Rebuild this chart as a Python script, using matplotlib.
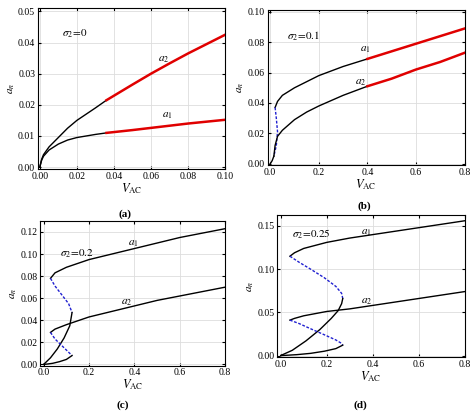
import matplotlib
matplotlib.use("Agg")
import matplotlib.pyplot as plt

plt.rcParams["font.family"] = ["Liberation Serif", "DejaVu Serif"]
plt.rcParams["mathtext.fontset"] = "stix"

# panel (a): sigma2 = 0
a_a2_v = [0, 0.001, 0.002, 0.005, 0.01, 0.015, 0.02, 0.025, 0.03, 0.036]
a_a2_y = [0, 0.0025, 0.004, 0.0065, 0.0095, 0.0125, 0.015, 0.017, 0.019, 0.0215]
a_a2_rv = [0.036, 0.05, 0.06, 0.07, 0.08, 0.09, 0.1]
a_a2_ry = [0.0215, 0.0265, 0.0300, 0.0333, 0.0365, 0.0395, 0.0425]
a_a1_v = [0, 0.001, 0.002, 0.005, 0.01, 0.015, 0.02, 0.03, 0.036]
a_a1_y = [0, 0.0022, 0.0035, 0.0055, 0.0074, 0.0087, 0.0095, 0.0105, 0.011]
a_a1_rv = [0.036, 0.05, 0.06, 0.07, 0.08, 0.09, 0.1]
a_a1_ry = [0.011, 0.0119, 0.0126, 0.0133, 0.0140, 0.0146, 0.0152]

# panel (b): sigma2 = 0.1
b_a1_v = [0.02, 0.03, 0.05, 0.1, 0.15, 0.2, 0.3, 0.4]
b_a1_y = [0.037, 0.041, 0.045, 0.050, 0.054, 0.058, 0.064, 0.069]
b_a1_rv = [0.4, 0.5, 0.6, 0.7, 0.8]
b_a1_ry = [0.069, 0.074, 0.079, 0.084, 0.089]
b_a1_uv = [0.02, 0.025, 0.03, 0.025, 0.015]
b_a1_uy = [0.037, 0.03, 0.021, 0.012, 0.005]
b_a1_lv = [0.015, 0.008, 0.003, 0]
b_a1_ly = [0.005, 0.002, 0.0007, 0]
b_a2_v = [0.015, 0.02, 0.03, 0.05, 0.1, 0.15, 0.2, 0.3, 0.4]
b_a2_y = [0.005, 0.012, 0.018, 0.022, 0.029, 0.034, 0.038, 0.045, 0.051]
b_a2_rv = [0.4, 0.5, 0.6, 0.7, 0.8]
b_a2_ry = [0.051, 0.056, 0.062, 0.067, 0.073]

# panel (c): sigma2 = 0.2
c_a1_v = [0.03, 0.05, 0.1, 0.2, 0.3, 0.4, 0.5, 0.6, 0.7, 0.8]
c_a1_y = [0.078, 0.083, 0.088, 0.095, 0.100, 0.105, 0.110, 0.115, 0.119, 0.123]
c_a1_uv = [0.03, 0.05, 0.08, 0.11, 0.125]
c_a1_uy = [0.078, 0.071, 0.063, 0.055, 0.047]
c_a1_lv = [0.125, 0.115, 0.09, 0.06, 0.03, 0.01, 0]
c_a1_ly = [0.047, 0.035, 0.024, 0.014, 0.006, 0.002, 0]
c_a2_v = [0.03, 0.05, 0.1, 0.2, 0.3, 0.4, 0.5, 0.6, 0.7, 0.8]
c_a2_y = [0.029, 0.032, 0.036, 0.043, 0.048, 0.053, 0.058, 0.062, 0.066, 0.070]
c_a2_uv = [0.03, 0.05, 0.08, 0.11, 0.125]
c_a2_uy = [0.029, 0.023, 0.017, 0.011, 0.008]
c_a2_lv = [0.125, 0.1, 0.07, 0.04, 0.015, 0]
c_a2_ly = [0.008, 0.0045, 0.0025, 0.001, 0.0003, 0]

# panel (d): sigma2 = 0.25
d_a1_v = [0.04, 0.06, 0.1, 0.2, 0.3, 0.4, 0.5, 0.6, 0.7, 0.8]
d_a1_y = [0.115, 0.119, 0.124, 0.131, 0.136, 0.140, 0.144, 0.148, 0.152, 0.156]
d_a1_uv = [0.04, 0.08, 0.13, 0.19, 0.24, 0.265, 0.27]
d_a1_uy = [0.115, 0.108, 0.100, 0.090, 0.080, 0.072, 0.066]
d_a1_lv = [0.27, 0.265, 0.25, 0.22, 0.17, 0.11, 0.05, 0]
d_a1_ly = [0.066, 0.060, 0.052, 0.043, 0.030, 0.017, 0.006, 0]
d_a2_v = [0.04, 0.06, 0.1, 0.2, 0.3, 0.4, 0.5, 0.6, 0.7, 0.8]
d_a2_y = [0.041, 0.043, 0.046, 0.051, 0.054, 0.058, 0.062, 0.066, 0.070, 0.074]
d_a2_uv = [0.04, 0.08, 0.13, 0.19, 0.24, 0.265, 0.27]
d_a2_uy = [0.041, 0.037, 0.031, 0.024, 0.018, 0.014, 0.012]
d_a2_lv = [0.27, 0.24, 0.19, 0.13, 0.07, 0.02, 0]
d_a2_ly = [0.012, 0.008, 0.005, 0.0025, 0.001, 0.0002, 0]

BLK = dict(color="black", lw=1.0)
RED = dict(color="#e00000", lw=1.8)
BLU = dict(color="#2020d0", lw=1.0, ls=(0, (2, 1.2)))

fig = plt.figure(figsize=(4.74, 4.13), dpi=100)
axa = fig.add_axes([0.08, 0.59, 0.395, 0.39])
axb = fig.add_axes([0.565, 0.60, 0.415, 0.375])
axc = fig.add_axes([0.085, 0.115, 0.39, 0.35])
axd = fig.add_axes([0.585, 0.135, 0.395, 0.345])


def style(ax, xticks, yticks, fmt_x, fmt_y):
    ax.set_xticks(xticks)
    ax.set_yticks(yticks)
    ax.set_xticklabels([fmt_x.format(t) for t in xticks])
    ax.set_yticklabels([fmt_y.format(t) for t in yticks])
    ax.tick_params(labelsize=7, direction="in", length=2.5, top=True, right=True, pad=2)
    ax.grid(color="#dddddd", lw=0.6)
    ax.set_xlabel(r"$V_{\mathrm{AC}}$", fontsize=9, labelpad=0)
    ax.set_ylabel(r"$a_n$", fontsize=8, labelpad=1)


axa.plot(a_a2_v, a_a2_y, **BLK)
axa.plot(a_a2_rv, a_a2_ry, **RED)
axa.plot(a_a1_v, a_a1_y, **BLK)
axa.plot(a_a1_rv, a_a1_ry, **RED)
axa.set_xlim(-0.001, 0.1)
axa.set_ylim(-0.0007, 0.051)
style(axa, [0, 0.02, 0.04, 0.06, 0.08, 0.1], [0, 0.01, 0.02, 0.03, 0.04, 0.05], "{:.2f}", "{:.2f}")
axa.text(0.012, 0.042, r"$\sigma_2\!=\!0$", fontsize=8)
axa.text(0.064, 0.034, r"$a_2$", fontsize=8)
axa.text(0.066, 0.0158, r"$a_1$", fontsize=8)

axb.plot(b_a1_v, b_a1_y, **BLK)
axb.plot(b_a1_rv, b_a1_ry, **RED)
axb.plot(b_a1_uv, b_a1_uy, **BLU)
axb.plot(b_a1_lv, b_a1_ly, **BLK)
axb.plot(b_a2_v, b_a2_y, **BLK)
axb.plot(b_a2_rv, b_a2_ry, **RED)
axb.set_xlim(-0.01, 0.8)
axb.set_ylim(-0.001, 0.101)
style(axb, [0, 0.2, 0.4, 0.6, 0.8], [0, 0.02, 0.04, 0.06, 0.08, 0.1], "{:.1f}", "{:.2f}")
axb.text(0.07, 0.082, r"$\sigma_2\!=\!0.1$", fontsize=8)
axb.text(0.37, 0.074, r"$a_1$", fontsize=8)
axb.text(0.35, 0.052, r"$a_2$", fontsize=8)

axc.plot(c_a1_v, c_a1_y, **BLK)
axc.plot(c_a1_uv, c_a1_uy, **BLU)
axc.plot(c_a1_lv, c_a1_ly, **BLK)
axc.plot(c_a2_v, c_a2_y, **BLK)
axc.plot(c_a2_uv, c_a2_uy, **BLU)
axc.plot(c_a2_lv, c_a2_ly, **BLK)
axc.set_xlim(-0.015, 0.8)
axc.set_ylim(-0.001, 0.13)
style(axc, [0, 0.2, 0.4, 0.6, 0.8], [0, 0.02, 0.04, 0.06, 0.08, 0.1, 0.12], "{:.1f}", "{:.2f}")
axc.text(0.07, 0.098, r"$\sigma_2\!=\!0.2$", fontsize=8)
axc.text(0.37, 0.108, r"$a_1$", fontsize=8)
axc.text(0.34, 0.054, r"$a_2$", fontsize=8)

axd.plot(d_a1_v, d_a1_y, **BLK)
axd.plot(d_a1_uv, d_a1_uy, **BLU)
axd.plot(d_a1_lv, d_a1_ly, **BLK)
axd.plot(d_a2_v, d_a2_y, **BLK)
axd.plot(d_a2_uv, d_a2_uy, **BLU)
axd.plot(d_a2_lv, d_a2_ly, **BLK)
axd.set_xlim(-0.015, 0.8)
axd.set_ylim(-0.002, 0.163)
style(axd, [0, 0.2, 0.4, 0.6, 0.8], [0, 0.05, 0.1, 0.15], "{:.1f}", "{:.2f}")
axd.text(0.05, 0.137, r"$\sigma_2\!=\!0.25$", fontsize=8)
axd.text(0.35, 0.140, r"$a_1$", fontsize=8)
axd.text(0.35, 0.060, r"$a_2$", fontsize=8)

fig.text(0.25, 0.475, "(a)", fontsize=8, weight="bold")
fig.text(0.755, 0.495, "(b)", fontsize=8, weight="bold")
fig.text(0.245, 0.012, "(c)", fontsize=8, weight="bold")
fig.text(0.745, 0.012, "(d)", fontsize=8, weight="bold")

fig.savefig("out.png", dpi=100)
